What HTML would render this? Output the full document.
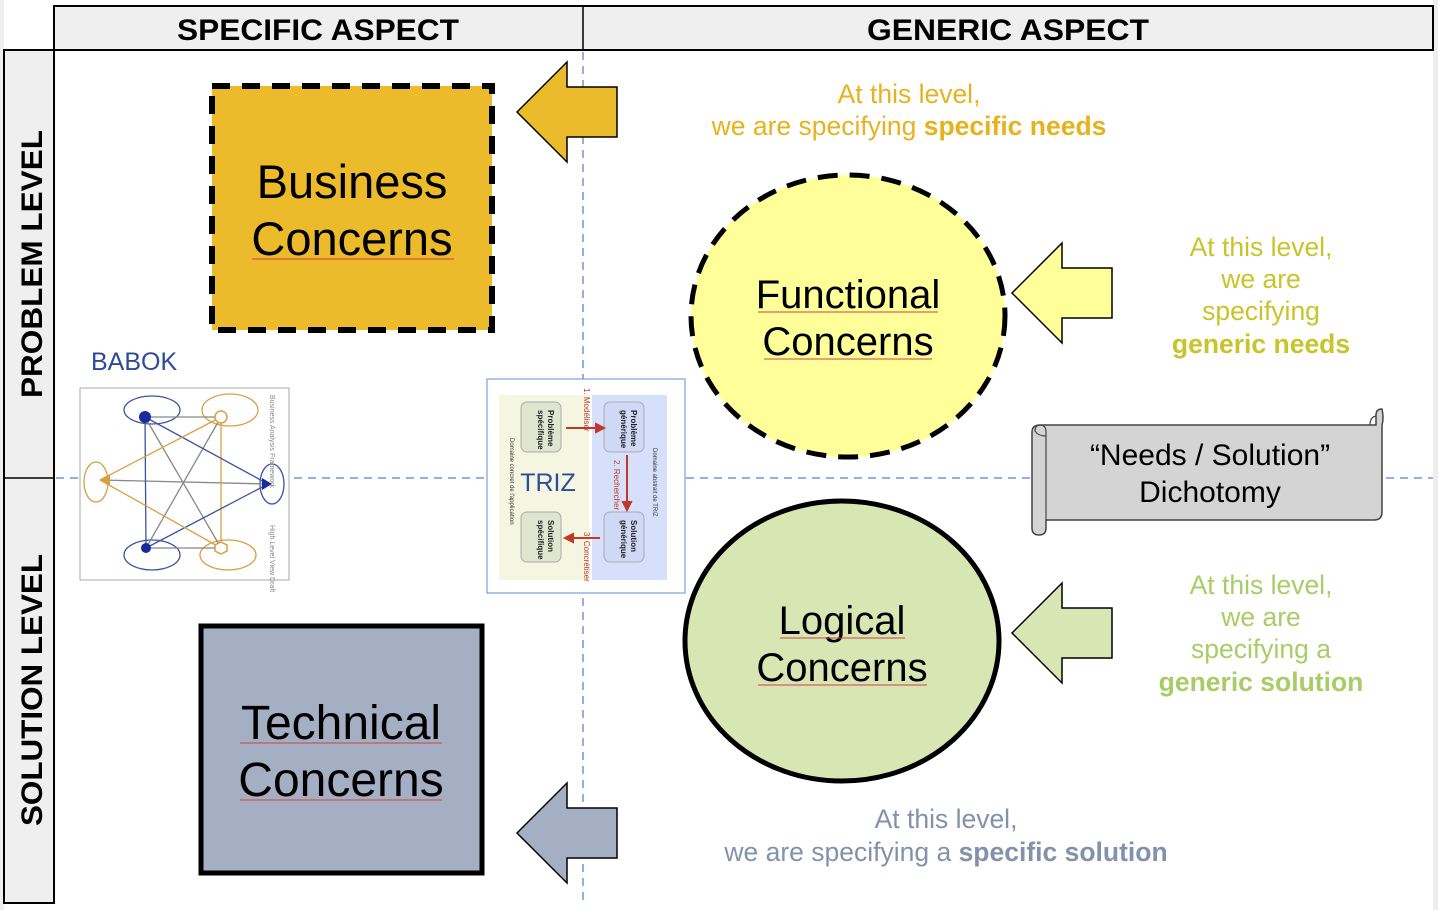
<!DOCTYPE html>
<html><head><meta charset="utf-8"><style>
html,body{margin:0;padding:0;background:#fff;}
svg{display:block;font-family:"Liberation Sans",sans-serif;}
</style></head><body>
<svg width="1438" height="910" viewBox="0 0 1438 910" xmlns="http://www.w3.org/2000/svg">
<rect x="0" y="0" width="1438" height="910" fill="#fff"/>
<rect x="0" y="0" width="4" height="910" fill="#eeeeee"/>
<rect x="1433" y="0" width="5" height="910" fill="#eeeeee"/>
<!-- header -->
<rect x="54" y="6" width="1379" height="44" fill="#efefef" stroke="#000" stroke-width="2"/>
<line x1="583" y1="6" x2="583" y2="50" stroke="#000" stroke-width="1.5"/>
<text x="318" y="40" font-size="30" font-weight="bold" text-anchor="middle" font-family="Liberation Sans Narrow, Liberation Sans, sans-serif" textLength="282" lengthAdjust="spacingAndGlyphs">SPECIFIC ASPECT</text>
<text x="1008" y="40" font-size="30" font-weight="bold" text-anchor="middle" font-family="Liberation Sans Narrow, Liberation Sans, sans-serif" textLength="282" lengthAdjust="spacingAndGlyphs">GENERIC ASPECT</text>
<!-- left column -->
<rect x="4" y="50" width="50" height="853" fill="#efefef" stroke="#000" stroke-width="2"/>
<line x1="4" y1="478" x2="54" y2="478" stroke="#000" stroke-width="1.5"/>
<text transform="translate(42,264) rotate(-90)" font-size="30" font-weight="bold" text-anchor="middle" font-family="Liberation Sans Narrow, Liberation Sans, sans-serif" textLength="268" lengthAdjust="spacingAndGlyphs">PROBLEM LEVEL</text>
<text transform="translate(42,690) rotate(-90)" font-size="30" font-weight="bold" text-anchor="middle" font-family="Liberation Sans Narrow, Liberation Sans, sans-serif" textLength="272" lengthAdjust="spacingAndGlyphs">SOLUTION LEVEL</text>
<!-- dashed axes -->
<line x1="583" y1="52" x2="583" y2="903" stroke="#6f96d6" stroke-width="1.5" stroke-dasharray="8,6"/>
<line x1="56" y1="478" x2="1433" y2="478" stroke="#6f96d6" stroke-width="1.5" stroke-dasharray="8,6"/>
<!-- Business -->
<rect x="212" y="86" width="280" height="244" fill="#ebbb2b" stroke="#000" stroke-width="6" stroke-dasharray="18,12"/>
<text x="352" y="198" font-size="47" text-anchor="middle">Business</text>
<text x="352" y="255" font-size="47" text-anchor="middle">Concerns</text>
<line x1="252" y1="259" x2="454" y2="259" stroke="#d04040" stroke-width="1"/>
<!-- Functional -->
<ellipse cx="848" cy="316" rx="157" ry="141" fill="#ffff99" stroke="#000" stroke-width="5" stroke-dasharray="20,12"/>
<text x="848" y="308" font-size="40" text-anchor="middle">Functional</text>
<text x="848" y="355" font-size="40" text-anchor="middle">Concerns</text>
<line x1="758" y1="312" x2="938" y2="312" stroke="#d04040" stroke-width="1"/>
<line x1="764" y1="359" x2="932" y2="359" stroke="#d04040" stroke-width="1"/>
<!-- Logical -->
<ellipse cx="842" cy="641" rx="157" ry="140" fill="#d8e6b3" stroke="#000" stroke-width="5"/>
<text x="842" y="634" font-size="40" text-anchor="middle">Logical</text>
<text x="842" y="681" font-size="40" text-anchor="middle">Concerns</text>
<line x1="780" y1="638" x2="905" y2="638" stroke="#d04040" stroke-width="1"/>
<line x1="758" y1="685" x2="927" y2="685" stroke="#d04040" stroke-width="1"/>
<!-- Technical -->
<rect x="201" y="626" width="281" height="247" fill="#a4afc4" stroke="#000" stroke-width="5"/>
<text x="341" y="739" font-size="48" text-anchor="middle">Technical</text>
<text x="341" y="796" font-size="48" text-anchor="middle">Concerns</text>
<line x1="240" y1="743" x2="442" y2="743" stroke="#d04040" stroke-width="1"/>
<line x1="240" y1="800" x2="442" y2="800" stroke="#d04040" stroke-width="1"/>
<!-- arrows -->
<polygon points="517,112 567,62 567,87 617,87 617,137 567,137 567,162" fill="#ebbb2b" stroke="#000" stroke-width="1.5"/>
<polygon points="1012,293 1062,243 1062,268 1112,268 1112,318 1062,318 1062,343" fill="#ffff99" stroke="#000" stroke-width="1.5"/>
<polygon points="1012,633 1062,583 1062,608 1112,608 1112,658 1062,658 1062,683" fill="#d8e6b3" stroke="#000" stroke-width="1.5"/>
<polygon points="517,833 567,783 567,808 617,808 617,858 567,858 567,883" fill="#a4afc4" stroke="#000" stroke-width="1.5"/>
<!-- texts -->
<g font-size="26.5" text-anchor="middle">
<text x="909" y="103" fill="#e6b21e">At this level,</text>
<text x="909" y="135" fill="#e6b21e">we are specifying <tspan font-weight="bold">specific needs</tspan></text>
<text x="1261" y="256" fill="#c8c42a">At this level,</text>
<text x="1261" y="288" fill="#c8c42a">we are</text>
<text x="1261" y="320" fill="#c8c42a">specifying</text>
<text x="1261" y="353" fill="#c8c42a" font-weight="bold">generic needs</text>
<text x="1261" y="594" fill="#a9cc66">At this level,</text>
<text x="1261" y="626" fill="#a9cc66">we are</text>
<text x="1261" y="658" fill="#a9cc66">specifying a</text>
<text x="1261" y="691" fill="#a9cc66" font-weight="bold">generic solution</text>
<text x="946" y="828" fill="#8391ac">At this level,</text>
<text x="946" y="861" fill="#8391ac">we are specifying a <tspan font-weight="bold">specific solution</tspan></text>
</g>
<!-- scroll -->
<path d="M1040,425 L1376,425 L1376,415 Q1376,409 1382,409 Q1384,418 1382,425 L1382,512 Q1382,520 1374,520 L1046,520 L1046,528 Q1046,535 1039,535 Q1032,535 1032,528 L1032,432 Q1032,425 1040,425 Z" fill="#d4d4d4" stroke="#444" stroke-width="1.5"/>
<path d="M1046,432 Q1046,425 1040,425 Q1035,425 1035,431 Q1038,436 1046,436" fill="none" stroke="#444" stroke-width="1.2"/>
<line x1="1046" y1="432" x2="1046" y2="520" stroke="#444" stroke-width="1.2"/>
<path d="M1370,425 Q1370,417 1376,416" fill="none" stroke="#444" stroke-width="1.2"/>
<text x="1210" y="465" font-size="30" text-anchor="middle">“Needs / Solution”</text>
<text x="1210" y="502" font-size="30" text-anchor="middle">Dichotomy</text>
<!-- BABOK -->
<text x="91" y="370" font-size="25" fill="#2e4a9a">BABOK</text>
<rect x="80" y="388" width="209" height="192" fill="#fff" stroke="#aaa" stroke-width="1"/>
<g stroke-width="1.3" fill="none">
<ellipse cx="152" cy="410" rx="28" ry="14" stroke="#3a55a0"/>
<ellipse cx="230" cy="410" rx="28" ry="16" stroke="#d8a040"/>
<ellipse cx="96" cy="482" rx="12" ry="20" stroke="#d8a040"/>
<ellipse cx="272" cy="484" rx="12" ry="20" stroke="#3a55a0"/>
<ellipse cx="152" cy="555" rx="28" ry="15" stroke="#3a55a0"/>
<ellipse cx="228" cy="555" rx="28" ry="15" stroke="#d8a040"/>
<line x1="145" y1="417" x2="221" y2="417" stroke="#888"/>
<line x1="146" y1="548" x2="221" y2="548" stroke="#888"/>
<line x1="100" y1="480" x2="268" y2="484" stroke="#888"/>
<line x1="145" y1="417" x2="221" y2="548" stroke="#888"/>
<line x1="221" y1="417" x2="146" y2="548" stroke="#888"/>
<line x1="145" y1="417" x2="146" y2="548" stroke="#3a55a0"/>
<line x1="221" y1="417" x2="221" y2="548" stroke="#d8a040"/>
<line x1="145" y1="417" x2="268" y2="484" stroke="#3a55a0"/>
<line x1="146" y1="548" x2="268" y2="484" stroke="#3a55a0"/>
<line x1="100" y1="480" x2="221" y2="417" stroke="#d8a040"/>
<line x1="100" y1="480" x2="221" y2="548" stroke="#d8a040"/>
</g>
<circle cx="145" cy="417" r="6" fill="#1a2a9a"/>
<circle cx="221" cy="417" r="6" fill="#fff" stroke="#d8a040" stroke-width="1.5"/>
<polygon points="262,478 262,490 272,484" fill="#1a2a9a"/>
<polygon points="100,480 110,474 110,486" fill="#d8a040"/>
<circle cx="146" cy="548" r="5" fill="#1a2a9a"/>
<polygon points="221,542 227,545 227,551 221,554 215,551 215,545" fill="#fff" stroke="#d8a040" stroke-width="1.5"/>
<text x="270" y="395" font-size="7" fill="#888" transform="rotate(90 270 395)">Business Analysis Framework</text>
<text x="270" y="525" font-size="7" fill="#888" transform="rotate(90 270 525)">High Level View Draft</text>
<!-- TRIZ -->
<rect x="487" y="379" width="198" height="214" fill="#fff" stroke="#7aa0d8" stroke-width="1.2"/>
<rect x="499" y="395" width="90" height="185" fill="#f4f6e2"/>
<rect x="592" y="395" width="75" height="185" fill="#d6e0fa"/>
<rect x="521" y="402" width="40" height="50" rx="6" fill="#dfe6cf" stroke="#aaa"/>
<rect x="604" y="402" width="40" height="50" rx="6" fill="#cfd9f5" stroke="#aaa"/>
<rect x="521" y="512" width="40" height="50" rx="6" fill="#dfe6cf" stroke="#aaa"/>
<rect x="604" y="512" width="40" height="50" rx="6" fill="#cfd9f5" stroke="#aaa"/>
<g stroke="#c0392b" stroke-width="2" fill="#c0392b">
<line x1="566" y1="428" x2="598" y2="428"/><polygon points="604,428 596,424 596,432"/>
<line x1="627" y1="455" x2="627" y2="504"/><polygon points="627,510 623,502 631,502"/>
<line x1="600" y1="538" x2="571" y2="538"/><polygon points="565,538 573,534 573,542"/>
</g>
<g font-size="8" font-weight="bold" fill="#222">
<text transform="translate(548,410) rotate(90)">Problème</text>
<text transform="translate(538,410) rotate(90)">spécifique</text>
<text transform="translate(631,410) rotate(90)">Problème</text>
<text transform="translate(621,410) rotate(90)">générique</text>
<text transform="translate(548,520) rotate(90)">Solution</text>
<text transform="translate(538,520) rotate(90)">spécifique</text>
<text transform="translate(631,520) rotate(90)">Solution</text>
<text transform="translate(621,520) rotate(90)">générique</text>
</g>
<g font-size="8" fill="#c0392b">
<text transform="translate(584,388) rotate(90)">1. Modéliser</text>
<text transform="translate(614,460) rotate(90)">2. Rechercher</text>
<text transform="translate(584,532) rotate(90)">3. Concrétiser</text>
</g>
<g font-size="6" fill="#333">
<text transform="translate(510,438) rotate(90)">Domaine concret de l'application</text>
<text transform="translate(653,448) rotate(90)">Domaine abstrait de TRIZ</text>
</g>
<text x="548" y="491" font-size="25" fill="#2e4a9a" text-anchor="middle">TRIZ</text>
</svg>
</body></html>
